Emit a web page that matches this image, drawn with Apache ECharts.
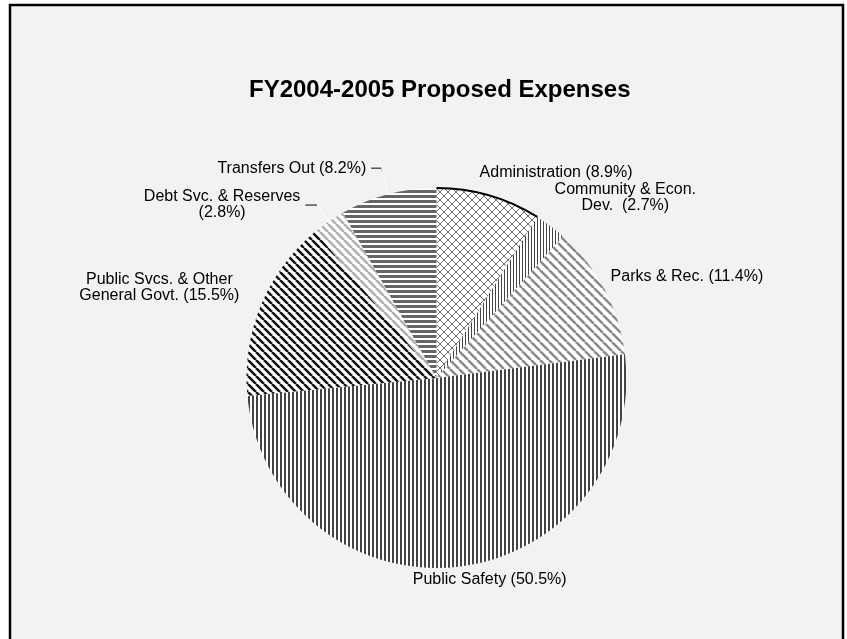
<!DOCTYPE html>
<html><head><meta charset="utf-8">
<script src="https://cdn.jsdelivr.net/npm/echarts@6/dist/echarts.min.js"></script>
<style>html,body{margin:0;padding:0;background:#fff;}#c{width:847px;height:639px;}</style>
</head><body><div id="c"></div>
<script>
// ---- data ----
const titleText = 'FY2004-2005 Proposed Expenses';
const categories = ['Administration', 'Community & Econ. Dev.', 'Parks & Rec.', 'Public Safety',
  'Public Svcs. & Other General Govt.', 'Debt Svc. & Reserves', 'Transfers Out'];
const labelNames = ['Administration', 'Community & Econ.\nDev. ', 'Parks & Rec.', 'Public Safety',
  'Public Svcs. & Other\nGeneral Govt.', 'Debt Svc. & Reserves\n', 'Transfers Out'];
const values = [8.9, 2.7, 11.4, 50.5, 15.5, 2.8, 8.2];

// ---- styles (fill patterns) ----
function tile(w, h, draw) {
  const c = document.createElement('canvas'); c.width = w; c.height = h;
  const g = c.getContext('2d'); g.fillStyle = '#ffffff'; g.fillRect(0, 0, w, h);
  draw(g, w, h); return { image: c, repeat: 'repeat' };
}
function vStripes(p, lw, col) { return tile(p, p, g => { g.fillStyle = col; g.fillRect(0, 0, lw, p); }); }
function hStripes(p, lw, col) { return tile(p, p, g => { g.fillStyle = col; g.fillRect(0, 0, p, lw); }); }
function diagLines(g, s, down) {
  for (let k = -1; k <= 1; k++) {
    if (down) { g.moveTo(k * s, 0); g.lineTo(k * s + s, s); }
    else { g.moveTo(k * s, s); g.lineTo(k * s + s, 0); }
  }
}
function diag(s, lw, col, down) {
  return tile(s, s, g => { g.strokeStyle = col; g.lineWidth = lw; g.beginPath(); diagLines(g, s, down); g.stroke(); });
}
function cross(s, lw, col) {
  return tile(s, s, g => { g.strokeStyle = col; g.lineWidth = lw; g.beginPath(); diagLines(g, s, true); diagLines(g, s, false); g.stroke(); });
}
const fills = [
  cross(8, 1, '#6e6e6e'),
  vStripes(3, 1, '#444444'),
  diag(9, 2.5, '#8a8a8a', true),
  vStripes(4, 2, '#444444'),
  diag(8, 2.6, '#151515', true),
  diag(8, 2.5, '#b0b0b0', true),
  hStripes(5, 3, '#666666')
];
// label placement (label line lengths), per slice
const labelPlace = [
  { len: 24, len2: -21, line: null },
  { len: 35, len2: -22, line: null },
  { len: 27, len2: -23, line: null },
  { len: 13, len2: -51, line: null },
  { len: 45, len2: -25, line: null },
  { len: 20, len2: 12, line: 0.515 },
  { len: 27, len2: 10, line: 0.59 }
];
const FONT = '"Liberation Sans", Arial, Helvetica, sans-serif';

const data = values.map((v, i) => {
  const p = labelPlace[i];
  const item = {
    name: categories[i], value: v,
    labelName: labelNames[i],
    itemStyle: { color: fills[i] },
    labelLine: { show: p.line !== null, length: p.len, length2: p.len2 }
  };
  if (p.line !== null) {
    item.labelLine.lineStyle = {
      width: 1,
      color: {
        type: 'linear', x: 0, y: 0, x2: 1, y2: 0,
        colorStops: [
          { offset: 0, color: '#000' }, { offset: p.line - 0.02, color: '#000' },
          { offset: p.line, color: 'rgba(255,255,255,0.75)' }, { offset: 1, color: 'rgba(255,255,255,0.75)' }
        ]
      }
    };
  }
  return item;
});

const chart = echarts.init(document.getElementById('c'), null, { renderer: 'canvas' });
chart.setOption({
  backgroundColor: '#ffffff',
  animation: false,
  graphic: [{
    type: 'rect', z: -10, silent: true,
    shape: { x: 10, y: 5, width: 833, height: 700 },
    style: { fill: '#f2f2f2', stroke: '#000', lineWidth: 2.5 }
  }],
  title: {
    text: titleText, left: 244, top: 73,
    textStyle: { fontFamily: FONT, fontSize: 24, fontWeight: 'bold', color: '#000' }
  },
  series: [{
    type: 'pie',
    center: [436.5, 378], radius: 190,
    startAngle: 90, clockwise: true,
    avoidLabelOverlap: false,
    data: data,
    itemStyle: { borderWidth: 0 },
    emphasis: { disabled: true },
    label: {
      show: true, position: 'outside', overflow: 'none', distanceToLabelLine: 5,
      color: '#000', fontFamily: FONT, fontSize: 16, lineHeight: 16,
      formatter: params => {
        const n = params.data.labelName;
        const t = n + (n.endsWith('\n') ? '' : ' ') + '(' + params.value + '%)';
        return t.split('\n').map(s => '{c|' + s + '}').join('\n');
      },
      rich: { c: { align: 'center', color: '#000', fontFamily: FONT, fontSize: 16, lineHeight: 16 } }
    }
  }, {
    type: 'pie', silent: true,
    center: [436.5, 378], radius: [189, 191],
    startAngle: 90, clockwise: true,
    label: { show: false }, labelLine: { show: false },
    emphasis: { disabled: true },
    data: values.map((v, i) => ({
      name: categories[i], value: v,
      itemStyle: { color: i === 0 ? '#000' : 'rgba(0,0,0,0)' }
    }))
  }]
});
</script></body></html>
